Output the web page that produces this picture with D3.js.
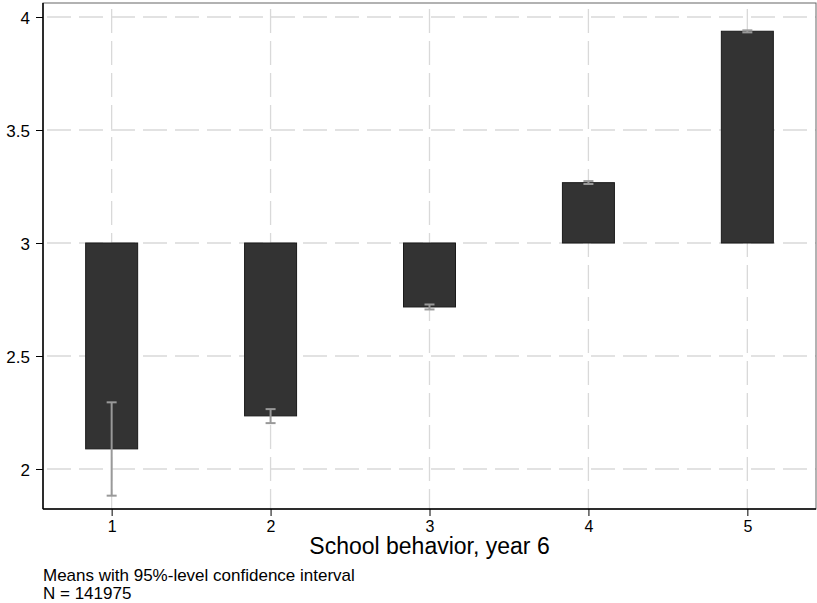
<!DOCTYPE html>
<html>
<head>
<meta charset="utf-8">
<script src="https://cdn.jsdelivr.net/npm/d3@7"></script>
<style>
  body { margin: 0; background: #fff; }
  svg { font-family: "Liberation Sans", Arial, sans-serif; }
</style>
</head>
<body>
<svg id="chart" width="817" height="603"></svg>
<script>
// ======================
// DATA
// ======================
const categories = [1, 2, 3, 4, 5];
const means = [2.089, 2.235, 2.717, 3.267, 3.937];
const ciLow = [1.882, 2.203, 2.706, 3.261, 3.932];
const ciHigh = [2.295, 2.265, 2.728, 3.274, 3.941];
const baseValue = 3;
const yTicks = [2, 2.5, 3, 3.5, 4];
const yTickLabels = ["2", "2.5", "3", "3.5", "4"];

// ======================
// SETUP
// ======================
const svg = d3.select("#chart");
const margin = { top: 3, right: 1, bottom: 94, left: 43 };
const width = 817, height = 603;
const innerW = width - margin.left - margin.right;
const innerH = height - margin.top - margin.bottom;

const g = svg.append("g")
    .attr("transform", `translate(${margin.left},${margin.top})`);

const x = d3.scaleLinear().domain([0.568, 5.432]).range([0, innerW]);
const y = d3.scaleLinear().domain([1.823, 4.062]).range([innerH, 0]);

// gridlines
g.selectAll(".hgrid")
    .data(yTicks)
    .enter()
    .append("line")
    .attr("x1", 0).attr("x2", innerW)
    .attr("y1", d => y(d)).attr("y2", d => y(d))
    .attr("stroke", "#d9d9d9")
    .attr("stroke-width", 1.3)
    .attr("stroke-dasharray", "24,8")
    .attr("stroke-dashoffset", -4);

g.selectAll(".vgrid")
    .data(categories)
    .enter()
    .append("line")
    .attr("x1", d => x(d)).attr("x2", d => x(d))
    .attr("y1", 0).attr("y2", innerH)
    .attr("stroke", "#d9d9d9")
    .attr("stroke-width", 1.3)
    .attr("stroke-dasharray", "24,8")
    .attr("stroke-dashoffset", -6);

// frame top/right
g.append("rect")
    .attr("x", 0).attr("y", 0)
    .attr("width", innerW).attr("height", innerH)
    .attr("fill", "none")
    .attr("stroke", "#666")
    .attr("stroke-width", 1);

// bars (from base 3)
const barW = 52;
g.selectAll(".bar")
    .data(categories)
    .enter()
    .append("rect")
    .attr("class", "bar")
    .attr("x", d => x(d) - barW / 2)
    .attr("width", barW)
    .attr("y", (d, i) => y(Math.max(baseValue, means[i])))
    .attr("height", (d, i) => Math.abs(y(means[i]) - y(baseValue)))
    .attr("fill", "#333333")
    .attr("stroke", "#1a1a1a")
    .attr("stroke-width", 1);

// error bars
const capW = 10;
const eb = g.selectAll(".err")
    .data(categories)
    .enter()
    .append("g")
    .attr("stroke", "#999999")
    .attr("stroke-width", 2);

eb.append("line")
    .attr("x1", d => x(d)).attr("x2", d => x(d))
    .attr("y1", (d, i) => y(ciLow[i]))
    .attr("y2", (d, i) => y(ciHigh[i]));
eb.append("line")
    .attr("x1", d => x(d) - capW / 2).attr("x2", d => x(d) + capW / 2)
    .attr("y1", (d, i) => y(ciLow[i]))
    .attr("y2", (d, i) => y(ciLow[i]));
eb.append("line")
    .attr("x1", d => x(d) - capW / 2).attr("x2", d => x(d) + capW / 2)
    .attr("y1", (d, i) => y(ciHigh[i]))
    .attr("y2", (d, i) => y(ciHigh[i]));

// axes
const yAxis = d3.axisLeft(y)
    .tickValues(yTicks)
    .tickFormat((d, i) => yTickLabels[i])
    .tickSize(7)
    .tickPadding(6);
const yAxisG = g.append("g").call(yAxis)
    .attr("font-size", null)
    .attr("font-family", null);
yAxisG.select(".domain").attr("stroke", "#000").attr("stroke-width", 1.5)
    .attr("d", `M0,0V${innerH}`);
yAxisG.selectAll("text")
    .style("font-size", "17px")
    .attr("dy", "0.38em")
    .attr("fill", "#000");

const xAxis = d3.axisBottom(x)
    .tickValues(categories)
    .tickFormat(d3.format("d"))
    .tickSize(7)
    .tickPadding(5);
const xAxisG = g.append("g")
    .attr("transform", `translate(0,${innerH})`)
    .call(xAxis)
    .attr("font-size", null)
    .attr("font-family", null);
xAxisG.select(".domain").attr("stroke", "#000").attr("stroke-width", 1.5)
    .attr("d", `M0,0H${innerW}`);
xAxisG.selectAll("text")
    .style("font-size", "16px")
    .attr("fill", "#000");

// axis title
svg.append("text")
    .attr("x", margin.left + x(3))
    .attr("y", 554)
    .attr("text-anchor", "middle")
    .style("font-size", "23px")
    .text("School behavior, year 6");

// notes
svg.append("text")
    .attr("x", 43).attr("y", 581)
    .style("font-size", "17px")
    .text("Means with 95%-level confidence interval");
svg.append("text")
    .attr("x", 43).attr("y", 599)
    .style("font-size", "17px")
    .text("N = 141975");
</script>
</body>
</html>
